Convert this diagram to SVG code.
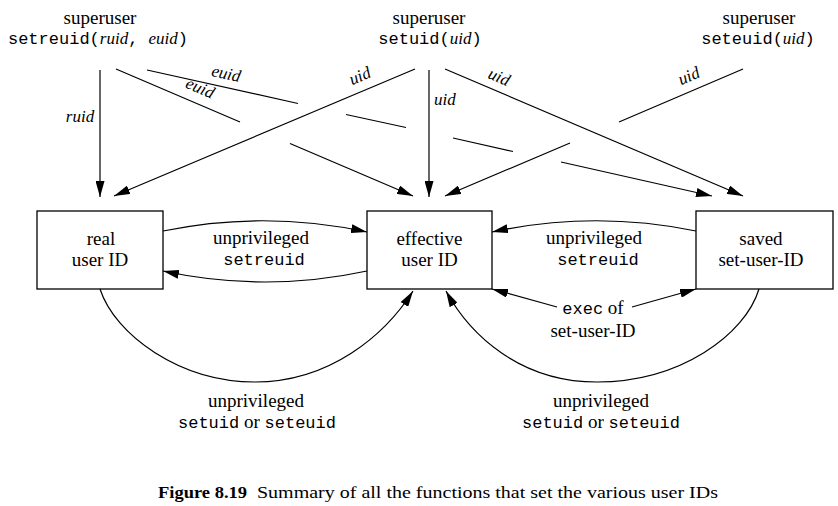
<svg xmlns="http://www.w3.org/2000/svg" width="838" height="506" viewBox="0 0 838 506">
<style>
.s{font-family:"Liberation Serif","Times New Roman",serif;font-size:19px;fill:#000}
.m{font-family:"Liberation Mono","Courier New",monospace;font-size:17px;fill:#000}
.i{font-family:"Liberation Serif","Times New Roman",serif;font-style:italic;font-size:17px;fill:#000}
.box{fill:#fff;stroke:#000;stroke-width:1.3}
.ln{fill:none;stroke:#000;stroke-width:1.2}
.cap{font-family:"Liberation Serif","Times New Roman",serif;font-size:17.5px;fill:#000}
</style>
<defs>
<marker id="ah" viewBox="0 0 16 9" refX="16" refY="4.5" markerWidth="16" markerHeight="9" markerUnits="userSpaceOnUse" orient="auto">
<path d="M0,0 L16,4.5 L0,9 z" fill="#000"/>
</marker>
</defs>

<g id="src-setreuid">
<text class="s" x="100" y="24" text-anchor="middle">superuser</text>
<text class="m" x="98" y="44" text-anchor="middle">setreuid(<tspan class="i">ruid</tspan>, <tspan class="i">euid</tspan>)</text>
</g>
<g id="src-setuid">
<text class="s" x="429" y="24" text-anchor="middle">superuser</text>
<text class="m" x="430" y="44" text-anchor="middle">setuid(<tspan class="i">uid</tspan>)</text>
</g>
<g id="src-seteuid">
<text class="s" x="759" y="24" text-anchor="middle">superuser</text>
<text class="m" x="758" y="44" text-anchor="middle">seteuid(<tspan class="i">uid</tspan>)</text>
</g>

<g id="real">
<rect class="box" x="37" y="211" width="126" height="78"/>
<text class="s" x="101" y="245" text-anchor="middle">real</text>
<text class="s" x="100" y="266" text-anchor="middle">user ID</text>
</g>
<g id="effective">
<rect class="box" x="367" y="211" width="125" height="78"/>
<text class="s" x="429.5" y="245" text-anchor="middle">effective</text>
<text class="s" x="429.5" y="266" text-anchor="middle">user ID</text>
</g>
<g id="saved">
<rect class="box" x="696" y="211" width="137" height="78"/>
<text class="s" x="761" y="245" text-anchor="middle">saved</text>
<text class="s" x="761" y="266" text-anchor="middle">set-user-ID</text>
</g>

<g id="connectors">
<path class="ln" d="M100,70 V197" marker-end="url(#ah)"/>
<text class="i" x="80" y="122" text-anchor="middle">ruid</text>
<path class="ln" d="M116,69 L240,122 M290,143.5 L413,196" marker-end="url(#ah)"/>
<text class="i" transform="translate(198,93) rotate(23.2)" text-anchor="middle">euid</text>
<path class="ln" d="M147,70 L298,103.5 M346,114.5 L406,127.5 M453,138 L513,151.5 M561,162 L712,196" marker-end="url(#ah)"/>
<text class="i" transform="translate(225,79) rotate(12.6)" text-anchor="middle">euid</text>
<path class="ln" d="M415,69 L114,196" marker-end="url(#ah)"/>
<text class="i" transform="translate(362,81) rotate(-22.9)" text-anchor="middle">uid</text>
<path class="ln" d="M429,70 V197" marker-end="url(#ah)"/>
<text class="i" x="434" y="105">uid</text>
<path class="ln" d="M445,69 L743,196" marker-end="url(#ah)"/>
<text class="i" transform="translate(497,82) rotate(23)" text-anchor="middle">uid</text>
<path class="ln" d="M743,69 L619,122 M570,143 L445,196" marker-end="url(#ah)"/>
<text class="i" transform="translate(691,81) rotate(-23)" text-anchor="middle">uid</text>

<path class="ln" d="M163,231 Q265,210 367,232" marker-end="url(#ah)"/>
<path class="ln" d="M367,271 Q265,293 163,271" marker-end="url(#ah)"/>
<text class="s" x="261" y="244" text-anchor="middle">unprivileged</text>
<text class="m" x="264" y="265" text-anchor="middle">setreuid</text>

<path class="ln" d="M696,231 Q594,210 492,232" marker-end="url(#ah)"/>
<text class="s" x="594" y="244" text-anchor="middle">unprivileged</text>
<text class="m" x="598" y="265" text-anchor="middle">setreuid</text>

<path class="ln" d="M557,307 L492,289" marker-end="url(#ah)"/>
<path class="ln" d="M632,307 L696,289" marker-end="url(#ah)"/>
<text class="s" x="593" y="314" text-anchor="middle"><tspan class="m">exec</tspan> of</text>
<text class="s" x="593" y="337" text-anchor="middle">set-user-ID</text>

<path class="ln" d="M100,289 C115,335 180,382 255,382 C330,382 385,335 413,291" marker-end="url(#ah)"/>
<text class="s" x="256" y="407" text-anchor="middle">unprivileged</text>
<text class="s" x="257" y="428" text-anchor="middle"><tspan class="m">setuid</tspan> or <tspan class="m">seteuid</tspan></text>

<path class="ln" d="M759,289 C745,335 680,382 597,382 C520,382 470,335 446,291" marker-end="url(#ah)"/>
<text class="s" x="601" y="407" text-anchor="middle">unprivileged</text>
<text class="s" x="601" y="428" text-anchor="middle"><tspan class="m">setuid</tspan> or <tspan class="m">seteuid</tspan></text>
</g>

<g id="caption">
<text class="cap" x="158" y="498" font-weight="bold" textLength="89" lengthAdjust="spacingAndGlyphs">Figure 8.19</text>
<text class="cap" x="257" y="498" textLength="461" lengthAdjust="spacingAndGlyphs">Summary of all the functions that set the various user IDs</text>
</g>
</svg>
